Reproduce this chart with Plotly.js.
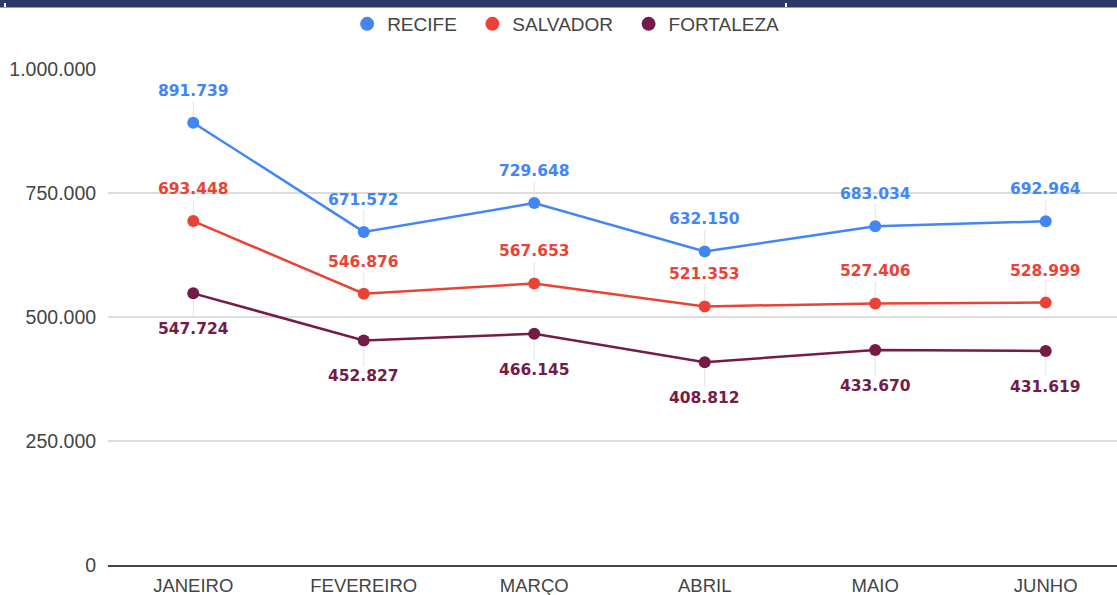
<!DOCTYPE html>
<html>
<head>
<meta charset="utf-8">
<script src="https://cdn.plot.ly/plotly-3.0.1.min.js"></script>
<style>
  html, body { margin: 0; padding: 0; background: #fff; }
  #chart { width: 1117px; height: 595px; }
</style>
</head>
<body>
<div id="chart"></div>
<script>
const months = ['JANEIRO', 'FEVEREIRO', 'MARÇO', 'ABRIL', 'MAIO', 'JUNHO'];
const seriesNames = ['RECIFE', 'SALVADOR', 'FORTALEZA'];
const recife = [891739, 671572, 729648, 632150, 683034, 692964];
const salvador = [693448, 546876, 567653, 521353, 527406, 528999];
const fortaleza = [547724, 452827, 466145, 408812, 433670, 431619];
const yTicks = [0, 250000, 500000, 750000, 1000000];

const colors = ['#4285f4', '#ea4335', '#741b47'];
const labelShift = [-32, -32, 36];
const allSeries = [recife, salvador, fortaleza];

function fmt(v) {
  return String(v).replace(/\B(?=(\d{3})+(?!\d))/g, '.');
}

const traces = [];
allSeries.forEach((vals, s) => {
  traces.push({
    type: 'scatter', mode: 'lines+markers', name: seriesNames[s],
    x: months, y: vals, showlegend: false, hoverinfo: 'skip',
    line: { color: colors[s], width: 2.5 },
    marker: { color: colors[s], size: 12, line: { width: 0 } }
  });
});
allSeries.forEach((vals, s) => {
  traces.push({
    type: 'scatter', mode: 'markers', name: seriesNames[s] + '\u00a0\u00a0',
    x: [null], y: [null], showlegend: true,
    marker: { color: colors[s], size: 14, line: { width: 0 } }
  });
});

const annotations = [];
allSeries.forEach((vals, s) => {
  vals.forEach((v, i) => {
    annotations.push({
      x: months[i], y: v, xref: 'x', yref: 'y',
      text: fmt(v), showarrow: true, arrowhead: 0, arrowwidth: 1,
      arrowcolor: '#e3e3e3', ax: 0, ay: labelShift[s], standoff: 6,
      font: { family: 'DejaVu Sans', size: 15.5, weight: 'bold', color: colors[s] }
    });
  });
});

const layout = {
  width: 1117, height: 595,
  margin: { l: 108, r: 0, t: 69, b: 30, pad: 0 },
  paper_bgcolor: '#ffffff', plot_bgcolor: '#ffffff',
  separators: ',.',
  font: { family: 'Liberation Sans, Arial, sans-serif', color: '#444' },
  showlegend: true,
  legend: {
    orientation: 'h', x: 0.459, xanchor: 'center', y: 1.0907, yanchor: 'middle',
    font: { family: 'Liberation Sans, Arial, sans-serif', size: 19, color: '#444' },
    bgcolor: 'rgba(0,0,0,0)', itemclick: false
  },
  xaxis: {
    type: 'category', range: [-0.5, 5.418], fixedrange: true,
    showgrid: false, zeroline: false,
    showline: true, linecolor: '#444', linewidth: 2,
    ticks: 'outside', ticklen: 3, tickcolor: 'rgba(0,0,0,0)',
    tickfont: { family: 'Liberation Sans, Arial, sans-serif', size: 18.5, color: '#444' }
  },
  yaxis: {
    range: [0, 1000000], fixedrange: true,
    tickvals: yTicks, tickformat: ',d',
    showgrid: true, gridcolor: '#dcdcdc', gridwidth: 1.5,
    zeroline: false, showline: false,
    ticks: 'outside', ticklen: 7, tickcolor: 'rgba(0,0,0,0)',
    tickfont: { family: 'Liberation Sans, Arial, sans-serif', size: 19.5, color: '#444' }
  },
  annotations: annotations,
  shapes: []
};

// top bar and small white marks (pixel-based positions converted to paper)
const plotH = 595 - 69 - 30;
function pyToPaper(py) { return (595 - 30 - py) / plotH; }
function pxToPaper(px) { return (px - 108) / 1009; }
layout.shapes.push({
  type: 'rect', xref: 'paper', yref: 'paper', x0: pxToPaper(-5), x1: pxToPaper(1125),
  y0: pyToPaper(7.5), y1: pyToPaper(-2), fillcolor: '#2b3a6b', line: { width: 0 }, layer: 'above'
});
[5, 786].forEach(px => {
  layout.shapes.push({
    type: 'rect', xref: 'paper', yref: 'paper',
    x0: pxToPaper(px - 1), x1: pxToPaper(px + 1),
    y0: pyToPaper(7), y1: pyToPaper(3),
    fillcolor: '#ffffff', line: { width: 0 }, layer: 'above'
  });
});

Plotly.newPlot('chart', traces, layout, { displayModeBar: false, staticPlot: true });
</script>
</body>
</html>
